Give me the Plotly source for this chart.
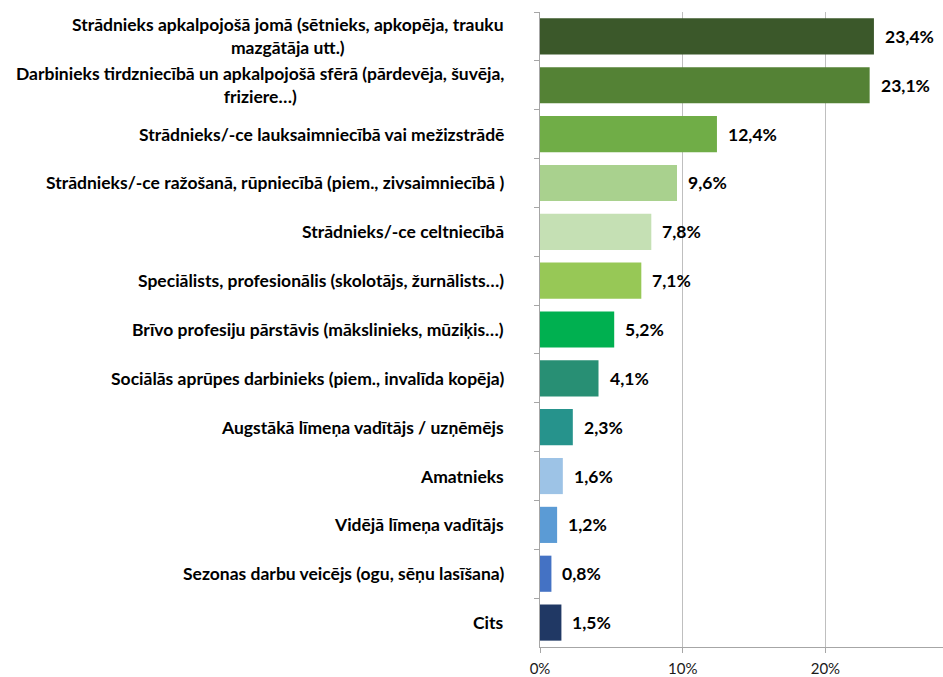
import plotly.graph_objects as go

# Occupation categories (top to bottom); "<br>" marks a wrapped line
categories = [
    "Strādnieks apkalpojošā jomā (sētnieks, apkopēja, trauku<br>mazgātāja utt.)",
    "Darbinieks tirdzniecībā un apkalpojošā sfērā (pārdevēja, šuvēja,<br>friziere…)",
    "Strādnieks/-ce lauksaimniecībā vai mežizstrādē",
    "Strādnieks/-ce ražošanā, rūpniecībā (piem., zivsaimniecībā )",
    "Strādnieks/-ce celtniecībā",
    "Speciālists, profesionālis (skolotājs, žurnālists…)",
    "Brīvo profesiju pārstāvis (mākslinieks, mūziķis…)",
    "Sociālās aprūpes darbinieks (piem., invalīda kopēja)",
    "Augstākā līmeņa vadītājs / uzņēmējs",
    "Amatnieks",
    "Vidējā līmeņa vadītājs",
    "Sezonas darbu veicējs (ogu, sēņu lasīšana)",
    "Cits",
]

# Share of respondents, %
values = [23.4, 23.1, 12.4, 9.6, 7.8, 7.1, 5.2, 4.1, 2.3, 1.6, 1.2, 0.8, 1.5]

bar_colors = [
    "#3B582A", "#548235", "#70AD47", "#A9D18E", "#C5E0B4", "#97C856", "#00B050",
    "#288F74", "#26938C", "#9DC3E6", "#5B9BD5", "#4472C4", "#203864",
]

x_ticks = [0, 10, 20]
x_tick_labels = ["0%", "10%", "20%"]

FAMILY = "Lato, 'Open Sans', sans-serif"
LABEL_FONT = dict(family=FAMILY, size=17.5, color="#000000", weight="bold")

fig = go.Figure(
    go.Bar(
        x=values,
        y=categories,
        orientation="h",
        marker=dict(color=bar_colors, line=dict(width=0)),
        hoverinfo="skip",
    )
)

annotations = []
for cat, val in zip(categories, values):
    # value label at the end of each bar
    annotations.append(dict(
        x=val, y=cat, xref="x", yref="y", xanchor="left", yanchor="middle",
        xshift=9, showarrow=False,
        text=f"{val:.1f}%".replace(".", ","),
        font=dict(family=FAMILY, size=17.5, color="#000000", weight="bold"),
    ))
    # category label to the left of the axis, wrapped lines centred
    annotations.append(dict(
        x=0, y=cat, xref="x", yref="y", xanchor="right", yanchor="middle",
        xshift=-34, showarrow=False, align="center", text=cat, font=LABEL_FONT,
    ))

fig.update_layout(
    width=943,
    height=677,
    margin=dict(l=540, r=0, t=12, b=30),
    paper_bgcolor="white",
    plot_bgcolor="white",
    bargap=0.26,
    showlegend=False,
    annotations=annotations,
    xaxis=dict(
        range=[0, 28.24],
        tickmode="array",
        tickvals=x_ticks,
        ticktext=x_tick_labels,
        showgrid=True,
        gridcolor="#BFBFBF",
        gridwidth=1,
        zeroline=False,
        showline=True,
        linecolor="#A6A6A6",
        ticks="outside",
        ticklen=5,
        tickcolor="#A6A6A6",
        ticklabelstandoff=3,
        tickfont=dict(family=FAMILY, size=15, color="#1A1A1A"),
        automargin=False,
        fixedrange=True,
    ),
    yaxis=dict(
        autorange="reversed",
        showticklabels=False,
        tickson="boundaries",
        ticks="outside",
        ticklen=5,
        tickcolor="#A6A6A6",
        showline=True,
        linecolor="#A6A6A6",
        showgrid=False,
        automargin=False,
        fixedrange=True,
    ),
)

fig.write_html("out.html")
